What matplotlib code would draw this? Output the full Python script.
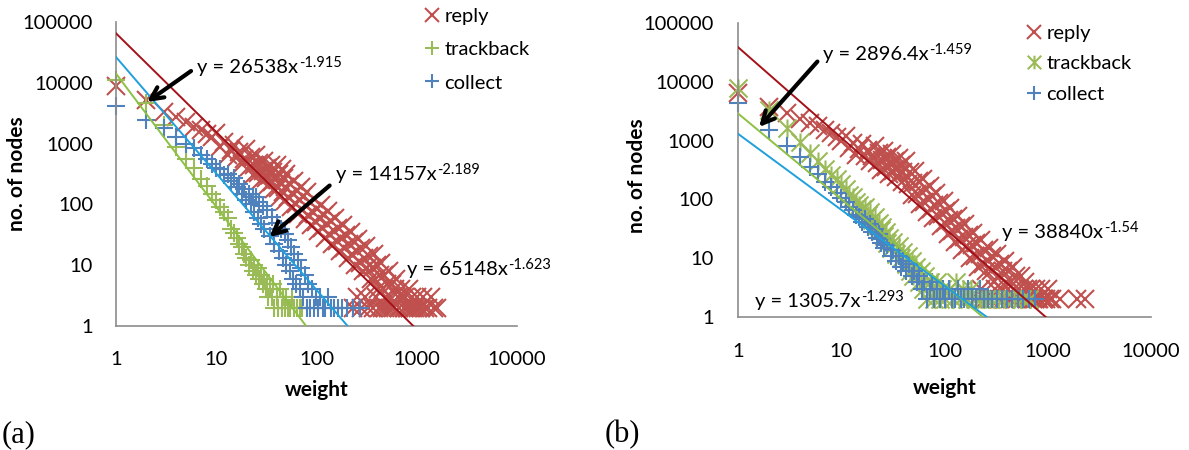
import numpy as np
import matplotlib
matplotlib.use('Agg')
import matplotlib.pyplot as plt
from matplotlib.path import Path

plt.rcParams['font.family'] = ['Lato', 'DejaVu Sans']

# ---------------- (a) weight distributions ----------------
reply_a_x = [1, 2, 3, 4, 5, 6, 7, 8, 9,
             10, 11, 12, 13, 14, 15, 16, 17, 18, 19,
             20, 21, 22, 23, 24, 25, 26, 27, 28, 29,
             30, 31, 32, 33, 34, 35, 36, 37, 38, 39,
             40, 41, 42, 43, 44, 45, 46, 47, 48, 49,
             50, 52, 54, 56, 58, 60, 62, 64, 66, 68,
             70, 72, 74, 76, 78, 80, 83, 86, 89, 92,
             95, 98, 101, 104, 107, 110, 114, 118, 122, 126,
             130, 134, 139, 144, 149, 154, 159, 165, 171, 177,
             183, 190, 197, 204, 211, 219, 227, 235, 243, 252,
             261, 270, 280, 290, 300, 311, 322, 334, 346, 358,
             371, 384, 398, 412, 427, 442, 458, 474, 491, 508,
             526, 545, 564, 584, 605, 626, 648, 671, 695, 720,
             745, 772, 800, 830, 860, 890, 925, 960, 1000, 1040,
             1090, 1150, 1220, 1300, 1400, 1500, 1600,
             232, 255, 276, 305, 330, 362, 390, 420, 450, 480, 515, 555]
reply_a_y = [9000, 5200, 3300, 2700, 2300, 1900, 1700, 1450, 1300,
             1480, 883, 1060, 643, 783, 960, 593, 733, 455, 566,
             811, 414, 597, 305, 442, 640, 330, 480, 248, 361,
             527, 274, 400, 207, 305, 447, 233, 343, 179, 263,
             446, 189, 317, 134, 224, 377, 159, 267, 113, 191,
             321, 132, 218, 90, 148, 245, 102, 169, 70, 117,
             195, 81, 136, 57, 95, 159, 66, 109, 45, 74,
             123, 51, 85, 36, 59, 99, 41, 68, 28, 47,
             77, 32, 53, 22, 36, 60, 25, 41, 17, 28,
             46, 19, 31, 13, 22, 35, 15, 24, 10, 17,
             27, 11, 19, 8, 13, 21, 9, 14, 6, 9,
             15, 6, 10, 4, 7, 11, 4, 7, 3, 5,
             8, 3, 5, 2, 4, 6, 3, 2, 4, 3,
             2, 3, 2, 4, 2, 3, 2, 2, 3, 2,
             2, 3, 2, 2, 3, 2, 2,
             2, 3, 2, 3, 2, 2, 3, 2, 2, 2, 2, 2]

trackback_a_x = [1, 2, 3, 4, 5, 6, 7, 8, 9, 10, 11, 12, 13, 14, 15, 16, 17, 18, 19, 20,
                 21, 22, 23, 24, 25, 26, 27, 28, 29, 30, 31, 32, 33, 34, 36, 37, 38, 40,
                 41, 43, 45, 46, 48, 50, 52, 55, 57, 60, 64, 68, 71]
trackback_a_y = [11000, 4600, 2000, 880, 560, 400, 260, 200, 150, 120, 90, 75, 60, 40, 34, 28, 22, 20, 15, 13,
                 10, 12, 8, 10, 7, 9, 6, 7, 5, 6, 4, 5, 3, 4, 3, 5, 2, 3,
                 2, 4, 2, 3, 2, 3, 2, 2, 3, 2, 2, 2, 2]

collect_a_x = [1, 2, 3, 4, 5, 6, 7, 8, 9, 10, 11, 12, 13, 14, 15, 16, 17, 18, 19, 20,
               21, 22, 23, 24, 25, 26, 27, 28, 29, 30, 32, 34, 36, 38, 40, 42, 44, 46,
               48, 50, 52, 54, 56, 58, 60, 62, 65, 68, 70, 73, 76, 80, 83, 86, 90, 94,
               98, 103, 108, 115, 122, 130, 140, 150, 165, 180, 200, 230, 270]
collect_a_y = [4200, 2400, 1800, 1300, 1000, 850, 650, 560, 470, 400, 380, 300, 320, 240, 270, 190, 220, 150, 180, 120,
               150, 100, 130, 75, 130, 60, 110, 48, 95, 40, 80, 30, 62, 22, 50, 17, 40, 13,
               32, 10, 26, 8, 20, 6, 15, 5, 12, 4, 9, 3, 7, 2, 5, 2, 4, 2,
               3, 2, 3, 2, 2, 3, 2, 2, 2, 2, 2, 2, 2]

# ---------------- (b) weight distributions ----------------
reply_b_x = [1, 2, 3, 4, 5, 6, 7, 8, 9, 10,
             11, 12, 13, 14, 15, 16, 17, 18, 19, 20,
             21, 22, 23, 24, 25, 26, 27, 28, 29, 30,
             31, 32, 33, 34, 35, 36, 37, 38, 39, 40,
             42, 44, 46, 48, 50, 52, 54, 56, 58, 60,
             62, 64, 66, 68, 70, 72, 74, 76, 78, 80,
             83, 86, 89, 92, 95, 98, 101, 104, 107, 110,
             114, 118, 122, 126, 130, 134, 139, 144, 149, 154,
             159, 165, 171, 177, 183, 190, 197, 204, 211, 219,
             227, 235, 243, 252, 261, 270, 280, 290, 300, 311,
             322, 334, 346, 358, 371, 384, 398, 412, 427, 442,
             458, 474, 491, 508, 526, 545, 564, 584, 605, 626,
             648, 671, 695, 720, 745, 772, 800, 830, 860, 890,
             925, 960, 1000, 1040, 1100, 1300, 1900, 2300,
             200, 225, 248, 275, 305, 340, 375, 415, 450]
reply_b_y = [6500, 3700, 3000, 2300, 2000, 1750, 1500, 1350, 1150, 1000,
             1216, 746, 920, 571, 711, 887, 557, 700, 442, 557,
             811, 419, 610, 316, 462, 676, 352, 518, 270, 396,
             585, 305, 450, 236, 348, 515, 270, 390, 200, 288,
             458, 184, 292, 118, 190, 307, 125, 203, 83, 135,
             221, 91, 149, 62, 101, 167, 69, 115, 48, 79,
             128, 52, 86, 35, 57, 94, 39, 64, 26, 44,
             71, 29, 47, 19, 32, 52, 21, 35, 14, 23,
             38, 16, 25, 10, 17, 27, 11, 18, 7, 12,
             20, 8, 14, 6, 9, 15, 6, 11, 4, 7,
             12, 5, 8, 3, 6, 9, 4, 6, 2, 4,
             7, 3, 5, 2, 3, 5, 2, 3, 4, 2,
             3, 2, 3, 2, 2, 3, 2, 2, 3, 2,
             2, 2, 3, 2, 2, 2, 2, 2,
             2, 3, 2, 2, 3, 2, 2, 3, 2]

trackback_b_x = [1, 2, 3, 4, 5, 6, 7, 8, 9, 10, 11, 12, 13, 14, 15, 16, 17, 18, 19, 20,
                 21, 22, 23, 24, 25, 26, 27, 28, 29, 30, 32, 34, 36, 38, 40, 42, 44, 46,
                 48, 50, 53, 56, 59, 62, 65, 68, 72, 76, 80, 85, 90, 95, 100, 110, 120,
                 130, 140, 150, 165, 180, 200, 220, 250, 280, 320, 380, 470, 560, 660]
trackback_b_y = [7800, 3300, 1650, 950, 620, 450, 330, 260, 220, 180, 150, 120, 110, 90, 80, 70, 75, 55, 60, 45,
                 50, 36, 40, 30, 34, 24, 28, 18, 22, 15, 19, 12, 16, 10, 13, 8, 11, 6,
                 9, 5, 7, 4, 6, 3, 5, 2, 4, 3, 2, 4, 2, 3, 2, 3, 2,
                 4, 2, 3, 2, 3, 2, 2, 2, 2, 2, 2, 2, 2, 2]

collect_b_x = [1, 2, 3, 4, 5, 6, 7, 8, 9, 10, 11, 12, 13, 14, 15, 16, 17, 18, 19, 20,
               21, 22, 23, 24, 25, 26, 28, 30, 32, 34, 36, 38, 40, 42, 45, 48, 51, 54,
               57, 60, 64, 68, 72, 76, 80, 85, 90, 96, 102, 110, 118, 126, 135, 145, 155,
               170, 185, 200, 220, 240, 265, 290, 320, 360, 400, 450, 510, 580, 660, 760]
collect_b_y = [4400, 1500, 800, 530, 360, 270, 200, 160, 130, 105, 90, 75, 65, 55, 50, 42, 46, 34, 38, 28,
               31, 22, 26, 18, 21, 15, 17, 11, 14, 9, 11, 7, 9, 6, 8, 5, 6, 4,
               5, 3, 4, 2, 3, 4, 2, 3, 2, 3, 2, 3, 2, 2, 3, 2, 2,
               3, 2, 2, 3, 2, 2, 2, 2, 2, 2, 2, 2, 2, 2, 2]

# power-law trendlines y = c * x^e  (reply, trackback, collect)
fit_a_coef = [65148, 14157, 26538]
fit_a_exp = [-1.623, -2.189, -1.915]
fit_b_coef = [38840, 2896.4, 1305.7]
fit_b_exp = [-1.54, -1.459, -1.293]

series_names = ['reply', 'trackback', 'collect']
marker_colors = ['#C0504D', '#9BBB59', '#4F81BD']
trend_colors = ['#A3121A', '#8DC044', '#1FA0DC']

x_ticks = [1, 10, 100, 1000, 10000]
y_ticks = [1, 10, 100, 1000, 10000, 100000]

# Excel style "star" marker: an x with a vertical bar through it
star = Path([(-1, -1), (1, 1), (-1, 1), (1, -1), (0, -1), (0, 1)],
            [Path.MOVETO, Path.LINETO] * 3)

arrow = dict(arrowstyle='->', lw=3, color='black', shrinkA=3, shrinkB=0,
             mutation_scale=22)


def put_equation(ax, pos, c, e, tip=None, relpos=(0, 0.5)):
    base = 'y = {:g}x'.format(c)
    if tip is None:
        t = ax.text(pos[0], pos[1], base, ha='left', va='baseline', fontsize=14.5)
    else:
        t = ax.annotate(base, xy=tip, xytext=pos, ha='left', va='baseline',
                        fontsize=14.5, arrowprops=dict(arrow, relpos=relpos))
    # exponent as a raised, smaller label right after the base text
    ax.annotate('{:g}'.format(e), xy=(1, 1), xycoords=t, xytext=(0.5, 2),
                textcoords='offset points', ha='left', va='top', fontsize=10.5)


def draw_panel(ax, data, markers, coefs, exps, xpad, ypad):
    ax.set_xscale('log')
    ax.set_yscale('log')
    for (x, y), mk, col, name in zip(data, markers, marker_colors, series_names):
        ax.plot(x, y, ls='none', marker=mk, ms=13, mew=1.5, mec=col,
                mfc='none', label=name, clip_on=False, zorder=2)
    xs = np.logspace(0, 4, 400)
    for c, e, col in zip(coefs, exps, trend_colors):
        ax.plot(xs, c * xs ** e, color=col, lw=1.4, zorder=3)
    ax.set_xlim(1, 10000)
    ax.set_ylim(1, 100000)
    ax.set_xticks(x_ticks, [str(v) for v in x_ticks])
    ax.set_yticks(y_ticks, [str(v) for v in y_ticks])
    ax.minorticks_off()
    ax.tick_params(axis='x', length=0, pad=xpad, labelsize=14.5)
    ax.tick_params(axis='y', length=0, pad=ypad, labelsize=14.5)
    for side in ['top', 'right']:
        ax.spines[side].set_visible(False)
    for side in ['left', 'bottom']:
        ax.spines[side].set_color('#8C8C8C')
        ax.spines[side].set_linewidth(1.2)
    ax.set_xlabel('weight', fontsize=15, fontweight='bold', va='center')
    ax.set_ylabel('no. of nodes', fontsize=15, fontweight='bold', va='center')


fig = plt.figure(figsize=(11.89, 4.5), dpi=100)
ax_a = fig.add_axes([116 / 1189, 124 / 450, 401 / 1189, 304 / 450])
ax_b = fig.add_axes([738 / 1189, 133 / 450, 413 / 1189, 294 / 450])

draw_panel(ax_a,
           [(reply_a_x, reply_a_y), (trackback_a_x, trackback_a_y), (collect_a_x, collect_a_y)],
           ['x', '+', '+'], fit_a_coef, fit_a_exp, xpad=18, ypad=16.5)
draw_panel(ax_b,
           [(reply_b_x, reply_b_y), (trackback_b_x, trackback_b_y), (collect_b_x, collect_b_y)],
           ['x', star, '+'], fit_b_coef, fit_b_exp, xpad=18.5, ypad=17.3)

ax_a.xaxis.set_label_coords(0.5, -0.2105)
ax_a.yaxis.set_label_coords(-0.247, 0.5)
ax_b.xaxis.set_label_coords(0.5, -0.24)
ax_b.yaxis.set_label_coords(-0.2446, 0.48)

# trendline equations
put_equation(ax_a, (6.46, 14490), fit_a_coef[2], fit_a_exp[2], tip=(2.04, 4830), relpos=(0, 0.55))
put_equation(ax_a, (155, 252), fit_a_coef[1], fit_a_exp[1], tip=(33.9, 29.1), relpos=(0, 0.15))
put_equation(ax_a, (794, 6.9), fit_a_coef[0], fit_a_exp[0])
put_equation(ax_b, (6.65, 23500), fit_b_coef[1], fit_b_exp[1], tip=(1.6, 1703), relpos=(0, 0.45))
put_equation(ax_b, (360, 22), fit_b_coef[0], fit_b_exp[0])
put_equation(ax_b, (1.46, 1.48), fit_b_coef[2], fit_b_exp[2])

legend_opts = dict(loc='upper left', frameon=False, fontsize=14.5,
                   handlelength=0.8, handletextpad=0.2, borderpad=0,
                   borderaxespad=0, markerscale=0.75,
                   bbox_transform=fig.transFigure)
ax_a.legend(bbox_to_anchor=(424 / 1189, 1 - 8 / 450), labelspacing=0.8,
            **legend_opts)
ax_b.legend(bbox_to_anchor=(1026 / 1189, 1 - 25 / 450), labelspacing=0.66,
            **legend_opts)

fig.text(2 / 1189, 1 - 435 / 450, '(a)', family='Liberation Serif',
         fontsize=22, va='center', ha='left')
fig.text(605 / 1189, 1 - 435 / 450, '(b)', family='Liberation Serif',
         fontsize=22, va='center', ha='left')

fig.savefig('out.png', dpi=100)
